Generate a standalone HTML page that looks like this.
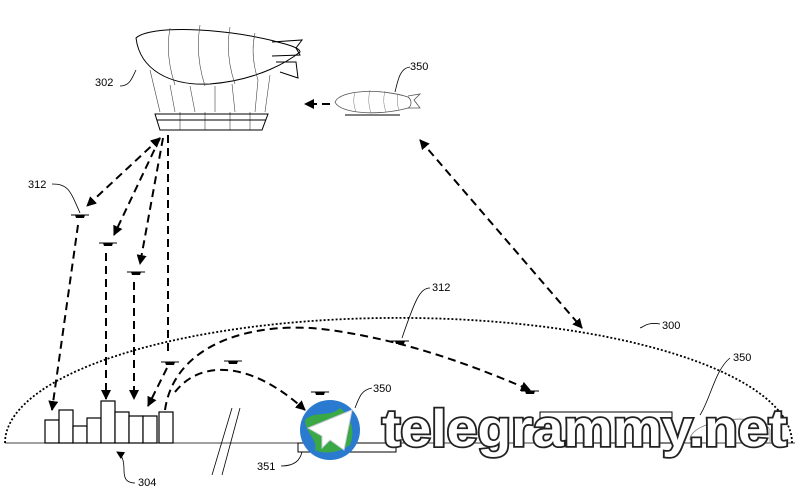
<!DOCTYPE html>
<html><head><meta charset="utf-8"><style>
html,body{margin:0;padding:0;background:#fff;}
svg{display:block;}
text{font-family:"Liberation Sans",sans-serif;}
</style></head><body>
<svg width="804" height="490" viewBox="0 0 804 490" xmlns="http://www.w3.org/2000/svg">
<defs>
<marker id="ah" markerWidth="10" markerHeight="10" refX="9" refY="5" orient="auto" markerUnits="userSpaceOnUse"><path d="M0,0 L10,5 L0,10 z" fill="#000"/></marker>
<marker id="ahs" markerWidth="10" markerHeight="10" refX="1" refY="5" orient="auto" markerUnits="userSpaceOnUse"><path d="M10,0 L0,5 L10,10 z" fill="#000"/></marker>
<marker id="ahm" markerWidth="8" markerHeight="8" refX="7" refY="4" orient="auto" markerUnits="userSpaceOnUse"><path d="M0,0 L8,4 L0,8 z" fill="#000"/></marker>
<g id="drone"><line x1="-9" y1="0" x2="9" y2="0" stroke="#000" stroke-width="1"/><path d="M-5,0 L5,0 L4,3 L-4,3 z" fill="#000"/></g>
</defs>
<g fill="none" stroke="#000">
<!-- big blimp -->
<path d="M136,38 C150,25 220,28 270,40 C290,45 300,48 300,52 C290,60 260,80 210,84 C170,86 140,70 136,38 z" stroke-width="1"/>
<path d="M272,42 L302,40 L296,48 L300,55 L272,56 M276,62 L296,62 L298,78 L280,72" stroke-width="1"/>
<g stroke-width="0.6" stroke="#444">
<path d="M170,28 Q165,55 175,85 M200,25 Q195,55 205,86 M230,27 Q225,55 235,84 M255,33 Q250,55 258,80"/>
<path d="M160,112 L150,70 M175,112 L170,85 M195,112 L190,86 M215,112 L215,86 M235,112 L232,84 M255,112 L258,80 M265,112 L270,75 M180,130 L180,112 M205,130 L205,112 M230,130 L230,112 M250,130 L250,112"/>
</g>
<path d="M155,114 L268,114 L262,130 L160,130 z M157,120 L266,120" stroke-width="1"/>
<path d="M120,86 C130,86 132,78 136,70" stroke-width="0.8"/>
<!-- small blimp -->
<path d="M335,102 C340,90 380,88 408,97 C412,100 412,106 408,108 C380,116 340,114 335,102 z" stroke-width="0.8" stroke="#555"/>
<g stroke-width="0.5" stroke="#777"><path d="M355,92 Q352,102 356,112 M370,90 Q367,102 371,113 M385,91 Q382,102 386,112 M398,94 Q396,102 399,110"/></g>
<path d="M408,96 L420,94 L414,100 L420,108 L408,108" stroke-width="0.8" stroke="#555"/>
<path d="M345,115 L400,115" stroke-width="1"/>
<path d="M395,92 C398,80 400,68 410,67" stroke-width="0.8"/>
<!-- arrows -->
<g stroke-width="2" stroke-dasharray="8,5">
<line x1="330" y1="104" x2="305" y2="104" marker-end="url(#ah)"/>
<line x1="420" y1="140" x2="582" y2="328" marker-end="url(#ah)" marker-start="url(#ahs)"/>
<line x1="160" y1="138" x2="87" y2="206" marker-end="url(#ah)" marker-start="url(#ahs)"/>
<line x1="160" y1="138" x2="114" y2="235" marker-end="url(#ah)"/>
<line x1="163" y1="138" x2="140" y2="264" marker-end="url(#ah)"/>
<line x1="168" y1="135" x2="168" y2="355"/>
<line x1="78" y1="225" x2="52" y2="410" marker-end="url(#ah)"/>
<line x1="106" y1="253" x2="106" y2="399" marker-end="url(#ah)"/>
<line x1="134" y1="282" x2="134" y2="399" marker-end="url(#ah)"/>
<line x1="167" y1="368" x2="148" y2="406" marker-end="url(#ah)"/>
<path d="M165,410 C175,340 260,320 330,330 C400,340 460,360 530,390" marker-end="url(#ah)"/>
<path d="M175,392 C200,360 250,360 305,410" marker-end="url(#ah)"/>
</g>
<!-- dome -->
<path d="M5,443 A393,125 0 0 1 792,443" stroke-width="1.8" stroke-dasharray="2,2"/>
<line x1="5" y1="443" x2="795" y2="443" stroke-width="0.8"/>
<!-- buildings -->
<g stroke-width="1.2" fill="#fff">
<rect x="45" y="420" width="14" height="23"/><rect x="59" y="410" width="14" height="33"/><rect x="73" y="426" width="14" height="17"/><rect x="87" y="418" width="14" height="25"/><rect x="101" y="401" width="14" height="42"/><rect x="115" y="412" width="14" height="31"/><rect x="129" y="416" width="14" height="27"/><rect x="143" y="416" width="14" height="27"/><rect x="159" y="412" width="14" height="31"/>
</g>
<path d="M212,475 L232,408 M222,475 L240,408" stroke-width="0.8"/>
<rect x="298" y="443" width="98" height="9" stroke-width="1"/>
<path d="M281,466 C295,466 300,460 302,452" stroke-width="0.8"/>
<path d="M135,483 C126,483 124,478 124,470 C124,460 122,455 117,452" stroke-width="0.8" marker-end="url(#ahm)"/>
<rect x="540" y="412" width="132" height="31" stroke-width="1"/>
<path d="M690,440 C690,420 760,410 770,430 L770,442" stroke-width="0.8" stroke="#777"/>
<path d="M700,415 C710,400 715,370 730,358" stroke-width="0.8"/>
<path d="M355,408 C360,395 362,390 372,388" stroke-width="0.8"/>
<path d="M640,328 C645,326 648,322 660,324" stroke-width="0.8"/>
<path d="M52,184 C68,184 70,190 80,213" stroke-width="0.8"/>
<path d="M430,288 C420,288 415,300 402,338" stroke-width="0.8"/>
</g>
<g>
<use href="#drone" x="80" y="215"/><use href="#drone" x="108" y="243"/><use href="#drone" x="136" y="272"/><use href="#drone" x="170" y="362"/><use href="#drone" x="233" y="361"/><use href="#drone" x="320" y="392"/><use href="#drone" x="400" y="341"/><use href="#drone" x="530" y="391"/>
</g>
<g font-size="11" fill="#000">
<text x="95" y="86">302</text><text x="410" y="70">350</text><text x="28" y="188">312</text><text x="432" y="291">312</text>
<text x="662" y="329">300</text><text x="733" y="361">350</text><text x="373" y="392">350</text><text x="257" y="470">351</text><text x="138" y="486">304</text>
</g>
<!-- watermark -->
<circle cx="330" cy="430" r="30" fill="#2a7bd0"/>
<path d="M305,420 C315,410 330,418 340,408 C350,415 356,430 350,445 C340,452 325,455 315,450 C318,440 305,432 305,420 z" fill="#39a845"/>
<path d="M308,428 L352,410 L344,450 L330,440 L322,448 L322,436 z" fill="#fff" stroke="#ccd" stroke-width="1"/>
<text x="382" y="446" font-size="52" font-weight="bold" font-family="'DejaVu Sans',sans-serif" fill="#fff" stroke="#222" stroke-width="3.5" paint-order="stroke" textLength="405" lengthAdjust="spacingAndGlyphs">telegrammy.net</text>
</svg>
</body></html>
